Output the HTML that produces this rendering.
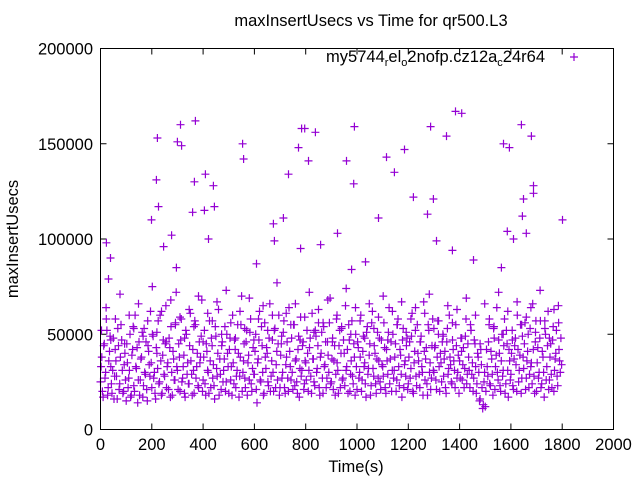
<!DOCTYPE html>
<html><head><meta charset="utf-8"><style>
html,body{margin:0;padding:0;background:#fff}
svg{display:block;font-family:"Liberation Sans",Arial,sans-serif}
</style></head><body>
<svg id="chart" width="640" height="480" viewBox="0 0 640 480" xmlns="http://www.w3.org/2000/svg">
<rect x="0" y="0" width="640" height="480" fill="#fff"/>
<text x="371" y="26" font-size="16.5" text-anchor="middle" fill="#000">maxInsertUsecs vs Time for qr500.L3</text>
<text transform="translate(18,239) rotate(-90)" font-size="16.5" text-anchor="middle" fill="#000">maxInsertUsecs</text>
<text x="356" y="472" font-size="16.5" text-anchor="middle" fill="#000">Time(s)</text>
<g id="ticks"></g>
<g id="marks"></g>
<rect x="100.5" y="48.5" width="513" height="381" fill="none" stroke="#000" stroke-width="1"/>
<g>
<text x="545" y="62" font-size="16.5" text-anchor="end" fill="#000">my5744<tspan font-size="11" dy="4">r</tspan><tspan dy="-4">el</tspan><tspan font-size="11" dy="4">o</tspan><tspan dy="-4">2nofp.cz12a</tspan><tspan font-size="11" dy="4">c</tspan><tspan dy="-4">24r64</tspan></text>
<path d="M570,57h8M574,53v8" stroke="#9400d3" stroke-width="1.2"/>
</g>
</svg>
<script>
const xTicks=[0,200,400,600,800,1000,1200,1400,1600,1800,2000];
const yTicks=[0,50000,100000,150000,200000];
const bandStart=0, bandStep=5;
const bandK=[
25,38,17,45,30,52,22,41,33,19,48,28,36,16,44,24,55,31,20,40,
15,35,27,50,18,42,23,60,32,14,46,26,38,17,53,29,21,44,34,62,
22,49,30,16,40,57,25,36,19,47,28,65,33,21,43,54,18,37,26,72,
31,45,20,58,27,39,17,50,35,24,61,29,42,19,55,33,23,46,38,68,
26,52,18,41,30,57,22,44,34,16,49,28,63,37,21,46,31,54,25,40,
19,48,33,60,24,42,28,55,17,38,70,30,45,22,52,35,26,58,20,43,
29,50,14,37,62,25,44,18,56,32,40,23,66,28,47,20,53,34,26,60,
22,45,30,57,19,38,27,64,33,48,21,55,36,25,42,17,59,31,46,24,
35,52,20,43,28,61,37,23,49,32,56,18,40,27,54,34,22,46,30,69,
25,48,36,18,58,31,44,22,53,27,40,65,33,19,47,29,57,24,38,50,
21,43,30,60,26,49,35,17,54,32,45,23,62,28,40,19,51,36,25,47,
33,56,22,42,29,64,37,20,50,31,45,26,58,23,39,17,53,34,28,48,
24,46,32,61,19,41,28,55,36,22,49,30,67,26,43,18,52,35,27,58,
30,44,21,57,33,40,25,50,37,22,46,29,60,34,24,42,31,55,27,39,
36,48,26,43,32,58,29,38,22,52,35,27,45,19,40,30,16,34,11,25,
12,42,28,55,23,37,18,48,33,64,26,40,20,50,31,58,24,45,17,36,
29,52,21,44,34,60,25,39,19,49,32,56,27,41,22,53,35,66,28,46,
20,43,30,57,24,38,17,50,33,62,26,45,22,54,31,40,28,65,36,48];
const band2K=[
33,20,44,27,58,18,36,49,24,31,16,42,28,53,21,38,47,19,34,26,
45,22,31,17,39,54,20,33,43,26,18,37,51,23,30,46,15,41,28,35,
50,27,19,43,32,24,60,18,39,29,45,22,35,48,17,30,41,26,56,33,
21,38,47,25,33,19,52,29,24,44,36,18,31,57,27,40,22,35,49,20,
38,24,45,31,19,36,48,27,23,54,32,40,18,29,44,25,37,20,50,33,
42,26,18,35,47,22,31,40,28,55,20,36,27,46,18,39,51,24,32,29,
41,21,35,47,26,54,30,19,38,43,25,48,20,36,30,52,22,41,45,18,
39,27,51,22,34,46,20,41,26,30,55,23,37,19,49,32,28,44,21,36,
26,40,31,48,19,37,25,52,30,44,22,38,51,19,33,46,27,39,56,24,
37,21,44,29,35,19,52,40,26,47,23,31,42,55,20,36,28,45,18,33,
46,27,38,20,41,33,24,51,29,39,18,56,32,44,24,37,27,48,21,34,
28,43,19,36,51,24,46,31,27,38,20,55,33,42,29,47,22,36,44,21,
38,27,49,20,35,52,23,40,29,46,33,18,41,37,24,55,30,21,44,31,
43,26,38,50,20,35,46,28,41,19,53,32,38,25,47,36,22,44,30,19,
27,41,34,22,49,24,45,31,55,29,20,47,33,24,38,15,42,22,13,30,
20,33,46,24,41,29,53,21,39,30,47,23,36,28,44,19,52,31,42,26,
40,23,37,48,20,42,31,55,27,38,45,21,36,50,29,33,24,42,19,57,
35,27,48,22,41,30,53,26,44,21,38,29,47,20,37,52,23,42,30,34];
const band3Step=10;
const band3K=[
52,64,47,58,71,45,60,53,66,49,57,75,51,62,46,68,55,59,48,63,
54,70,46,61,57,67,50,73,56,48,62,53,69,47,58,65,52,60,77,49,
61,55,66,47,59,72,51,63,56,68,46,60,54,74,50,64,57,48,66,53,
59,70,47,62,55,67,51,58,64,46,61,71,53,57,49,65,56,63,48,69,
52,60,45,66,58,54,72,50,62,47,67,55,59,64,51,73,57,48,63,56];
const outT=[23,39,31,199,218,222,226,246,277,296,300,312,316,359,366,370,409,405,421,440,444,554,558,608,674,678,713,733,772,780,784,811,796,838,858,959,990,987,979,924,1033,1084,1115,1146,1185,1220,1275,1287,1298,1310,1349,1384,1408,1372,1454,1571,1594,1586,1610,1641,1645,1649,1680,1688,1688,1801,1660,1563];
const outV=[98000,90000,79000,110000,131000,153000,117000,96000,102000,85000,151000,160000,149000,114000,130000,162000,134000,115000,100000,128000,117000,150000,142000,87000,108000,99000,111000,134000,148000,95000,158000,141000,158000,156000,97000,141000,159000,129000,84000,103000,88000,111000,143000,135000,147000,122000,113000,159000,121000,99000,154000,167000,166000,94000,89000,150000,148000,104000,100000,160000,112000,121000,154000,128000,124000,110000,103000,85000];

const X0=100.5,X1=613.5,Y0=429.5,Y1=48.5;
function sx(t){return X0+(t-0)/(2000-0)*(X1-X0);}
function sy(v){return Y0-(v-0)/(200000-0)*(Y0-Y1);}
const NS="http://www.w3.org/2000/svg";
const tg=document.getElementById('ticks');
const mg=document.getElementById('marks');
xTicks.forEach(t=>{
  const p=document.createElementNS(NS,'path');
  p.setAttribute('d',`M${sx(t)},${Y0}v-6M${sx(t)},${Y1}v6`);
  p.setAttribute('stroke','#000');
  
  
  tg.appendChild(p);
  const l=document.createElementNS(NS,'text');
  l.setAttribute('x',sx(t));l.setAttribute('y',450);
  l.setAttribute('font-size','16.5');l.setAttribute('text-anchor','middle');
  
  
  l.textContent=t;tg.appendChild(l);
});
yTicks.forEach(v=>{
  const p=document.createElementNS(NS,'path');
  p.setAttribute('d',`M${X0},${sy(v)}h6M${X1},${sy(v)}h-6`);
  p.setAttribute('stroke','#000');
  
  
  tg.appendChild(p);
  const l=document.createElementNS(NS,'text');
  l.setAttribute('x',93);l.setAttribute('y',sy(v)+6);
  l.setAttribute('font-size','16.5');l.setAttribute('text-anchor','end');
  
  
  l.textContent=v;tg.appendChild(l);
});
let d='';
function plus(t,v){const x=sx(t),y=sy(v);d+=`M${(x-4).toFixed(1)},${y.toFixed(1)}h8M${x.toFixed(1)},${(y-4).toFixed(1)}v8`;}
bandK.forEach((k,i)=>plus(bandStart+i*bandStep,k*1000));
band2K.forEach((k,i)=>plus(bandStart+2.5+i*bandStep,k*1000));
band3K.forEach((k,i)=>plus(bandStart+4+i*band3Step*1.8,k*1000));
outT.forEach((t,i)=>plus(t,outV[i]));
const pts=document.createElementNS(NS,'path');
pts.setAttribute('d',d);
pts.setAttribute('stroke','#9400d3');
pts.setAttribute('stroke-width','1.2');
pts.setAttribute('fill','none');


mg.appendChild(pts);
</script>
</body></html>
